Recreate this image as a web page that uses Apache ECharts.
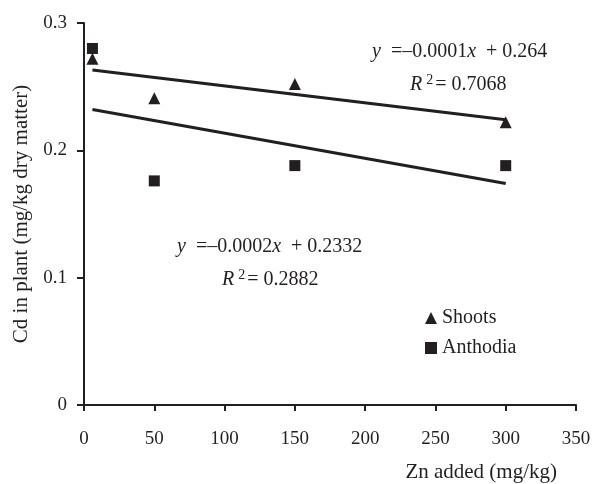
<!DOCTYPE html>
<html>
<head>
<meta charset="utf-8">
<script src="https://cdn.jsdelivr.net/npm/echarts@6/dist/echarts.min.js"></script>
<style>
  html, body { margin: 0; padding: 0; background: #fff; }
  #chart { width: 594px; height: 484px; }
</style>
</head>
<body>
<div id="chart"></div>
<script>
const zinc = [6, 50, 150, 300];
const shoots = [0.272, 0.241, 0.252, 0.222];
const anthodia = [0.280, 0.176, 0.188, 0.188];
const trendX = [6, 300];
const shootsTrend = [0.263, 0.224];
const anthodiaTrend = [0.232, 0.174];

const ink = '#231f20';
const font = 'Liberation Serif';

const chart = echarts.init(document.getElementById('chart'), null, { renderer: 'canvas' });

const pairs = (xs, ys) => xs.map((x, i) => [x, ys[i]]);

const rich = {
  i: { fontStyle: 'italic', fontFamily: font, fontSize: 20, color: ink },
  sup: { fontFamily: font, fontSize: 14, color: ink, verticalAlign: 'top', padding: [0, 2, 10, 4] }
};

const eqText = (left, top, text) => ({
  type: 'text', left, top,
  style: { text, rich, fontSize: 20, fontFamily: font, fill: ink }
});

const option = {
  animation: false,
  textStyle: { fontFamily: font, color: ink },
  grid: { left: 84, right: 18, top: 23, bottom: 79 },
  xAxis: {
    type: 'value',
    min: 0,
    max: 350,
    interval: 50,
    name: 'Zn added (mg/kg)',
    nameLocation: 'end',
    nameGap: 0,
    nameTextStyle: { fontSize: 21, color: ink, align: 'right', verticalAlign: 'top', padding: [57, 19, 0, 0] },
    axisLine: { lineStyle: { color: ink, width: 2 } },
    axisTick: { length: 6, lineStyle: { color: ink, width: 2 } },
    axisLabel: { fontSize: 19, color: ink, margin: 25 },
    splitLine: { show: false }
  },
  yAxis: {
    type: 'value',
    min: 0,
    max: 0.3,
    interval: 0.1,
    name: 'Cd in plant (mg/kg dry matter)',
    nameLocation: 'middle',
    nameGap: 51,
    nameTextStyle: { fontSize: 21, color: ink },
    axisLine: { lineStyle: { color: ink, width: 2 } },
    axisTick: { length: 7, lineStyle: { color: ink, width: 2 } },
    axisLabel: { fontSize: 19, color: ink, margin: 17, formatter: v => v === 0 ? '0' : v.toFixed(1) },
    splitLine: { show: false }
  },
  legend: {
    orient: 'vertical',
    left: 420,
    top: 303,
    itemWidth: 12,
    itemHeight: 12,
    itemGap: 10,
    textStyle: { fontSize: 20, color: ink, fontFamily: font },
    data: [
      { name: 'Shoots', icon: 'triangle' },
      { name: 'Anthodia', icon: 'rect' }
    ]
  },
  series: [
    {
      name: 'Shoots',
      type: 'scatter',
      symbol: 'triangle',
      symbolSize: 12,
      itemStyle: { color: ink, opacity: 1 },
      data: pairs(zinc, shoots),
      z: 3
    },
    {
      name: 'Anthodia',
      type: 'scatter',
      symbol: 'rect',
      symbolSize: 11,
      itemStyle: { color: ink, opacity: 1 },
      data: pairs(zinc, anthodia),
      z: 3
    },
    {
      name: 'Shoots trend',
      type: 'line',
      showSymbol: false,
      lineStyle: { color: ink, width: 3 },
      data: pairs(trendX, shootsTrend)
    },
    {
      name: 'Anthodia trend',
      type: 'line',
      showSymbol: false,
      lineStyle: { color: ink, width: 3 },
      data: pairs(trendX, anthodiaTrend)
    }
  ],
  graphic: [
    eqText(372, 42, '{i|y}  =–0.0001{i|x}  + 0.264'),
    eqText(410, 73, '{i|R}{sup|2}= 0.7068'),
    eqText(177, 237, '{i|y}  =–0.0002{i|x}  + 0.2332'),
    eqText(222, 268, '{i|R}{sup|2}= 0.2882')
  ]
};

chart.setOption(option);
</script>
</body>
</html>
